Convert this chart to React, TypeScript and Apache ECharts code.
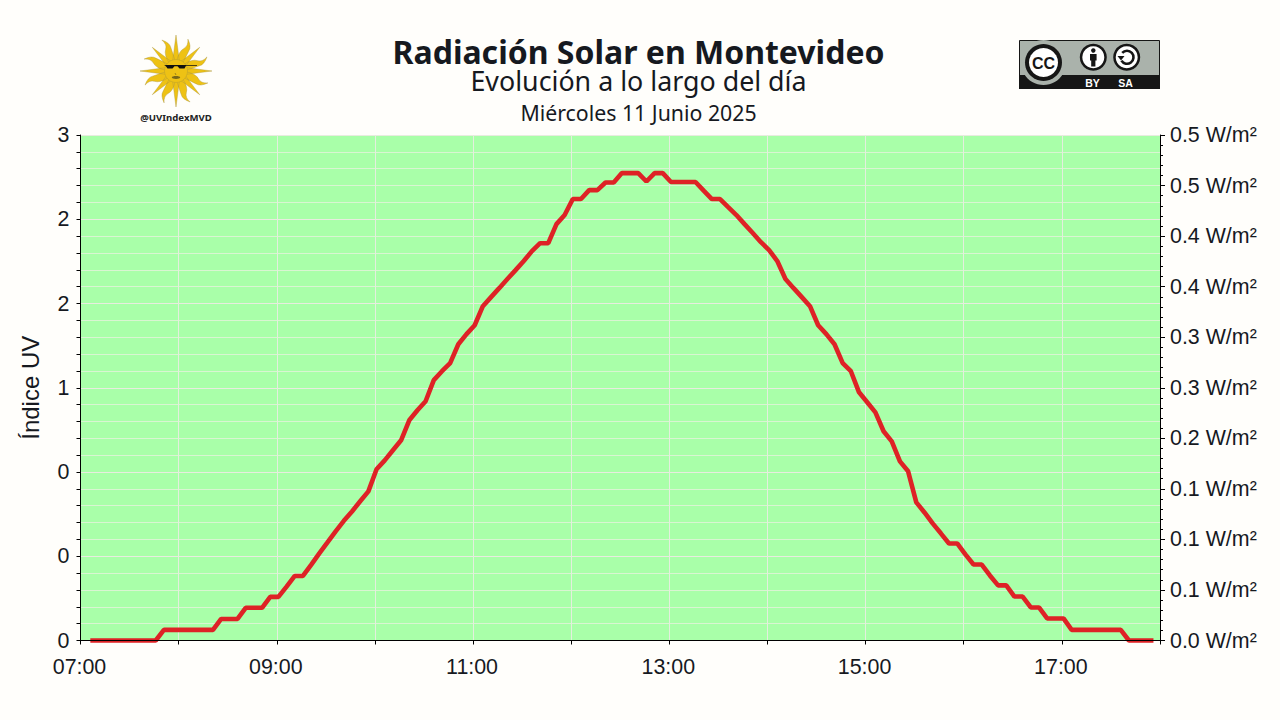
import React, { useEffect, useRef } from "react";
import * as echarts from "echarts";

const titleText = "Radiación Solar en Montevideo";
const subtitleText = "Evolución a lo largo del día";
const dateText = "Miércoles 11 Junio 2025";
const handleText = "@UVIndexMVD";
const yAxisTitle = "Índice UV";

const firstSampleMinute = 426;
const sampleStepMinutes = 5;

const uvValues = [
  0, 0, 0, 0, 0, 0, 0, 0, 0,
  0.063, 0.063, 0.063, 0.063, 0.063, 0.063, 0.063,
  0.128, 0.128, 0.128, 0.194, 0.194, 0.194, 0.259, 0.259, 0.32, 0.383, 0.383,
  0.449, 0.517, 0.582, 0.648, 0.71, 0.766, 0.826, 0.885, 1.016, 1.069, 1.129, 1.188,
  1.307, 1.366, 1.42, 1.545, 1.598, 1.646, 1.758, 1.818, 1.871, 1.984, 2.038, 2.091,
  2.145, 2.198, 2.252, 2.311, 2.358, 2.358, 2.471, 2.525, 2.62, 2.62, 2.673, 2.673,
  2.718, 2.718, 2.774, 2.774, 2.774, 2.724, 2.774, 2.774, 2.721, 2.721, 2.721, 2.721,
  2.67, 2.62, 2.62, 2.572, 2.525, 2.471, 2.418, 2.364, 2.317, 2.252, 2.145, 2.091,
  2.038, 1.984, 1.871, 1.818, 1.758, 1.646, 1.598, 1.473, 1.414, 1.354, 1.242, 1.182,
  1.063, 1.004, 0.82, 0.76, 0.695, 0.636, 0.576, 0.576, 0.511, 0.451, 0.451, 0.386,
  0.327, 0.327, 0.261, 0.261, 0.196, 0.196, 0.131, 0.131, 0.131,
  0.063, 0.063, 0.063, 0.063, 0.063, 0.063, 0.063,
  0, 0, 0, 0,
];

const xTickLabels = ["07:00", "", "09:00", "", "11:00", "", "13:00", "", "15:00", "", "17:00", ""];
const uvTickLabels = ["0", "0", "0", "1", "2", "2", "3"];
const irradianceTickLabels = [
  "0.0 W/m²", "0.1 W/m²", "0.1 W/m²", "0.1 W/m²", "0.2 W/m²", "0.3 W/m²",
  "0.3 W/m²", "0.4 W/m²", "0.4 W/m²", "0.5 W/m²", "0.5 W/m²",
];

const INK = "#16191f";
const SANS = "'Liberation Sans', Arial, sans-serif";
const NOTO = "'Noto Sans', sans-serif";

function buildSunRays(): string {
  // 16 rays around the origin: straight ones alternate with wavy ones.
  let d = "";
  const pt = (r: number, deg: number) => {
    const a = (deg * Math.PI) / 180;
    return `${(r * Math.cos(a)).toFixed(2)} ${(r * Math.sin(a)).toFixed(2)}`;
  };
  for (let i = 0; i < 16; i++) {
    const a = i * 22.5 - 90;
    if (i % 2 === 0) {
      const tip = i % 4 === 0 ? 36 : 33.5;
      d += `M${pt(10, a - 20)} L${pt(tip, a)} L${pt(10, a + 20)} Z `;
    } else {
      d +=
        `M${pt(10, a - 18)} Q${pt(20, a - 15)} ${pt(24, a - 3)} ` +
        `Q${pt(28, a + 4)} ${pt(34, a - 2)} ` +
        `Q${pt(29, a + 10)} ${pt(24, a + 10)} ` +
        `Q${pt(17, a + 13)} ${pt(10, a + 18)} Z `;
    }
  }
  return d;
}

const sunElements = () => [
  { type: "sunRays", x: 176, y: 71, style: { fill: "#eec214", stroke: "#a8963f", lineWidth: 0.4 } },
  { type: "circle", shape: { cx: 176, cy: 71, r: 11.5 }, style: { fill: "#eec214", stroke: "#b09a30", lineWidth: 0.4 } },
  { type: "polygon", shape: { points: [[164, 65], [197, 65], [197, 65.8], [186, 65.8], [184.5, 68.5], [179.5, 68.5], [177.5, 66.3], [174.5, 66.3], [172.5, 68.5], [167.5, 68.5], [165.5, 65.8]] }, style: { fill: "#111" } },
  { type: "line", shape: { x1: 175, y1: 73, x2: 176, y2: 75 }, style: { stroke: "#7a6818", lineWidth: 0.7 } },
  { type: "ellipse", shape: { cx: 176, cy: 77.5, rx: 4.2, ry: 1.4 }, style: { fill: "#7a6818" } },
  {
    type: "text", x: 176, y: 117.5,
    style: { text: handleText, font: `bold 9.6px ${NOTO}`, fill: "#222", align: "center", verticalAlign: "middle" },
  },
];

const badgeElements = () => {
  const grey = "#aab2ab";
  const black = "#161616";
  return [
    { type: "rect", shape: { x: 1019.5, y: 40.5, width: 140, height: 48 }, style: { fill: grey, stroke: black, lineWidth: 1 } },
    { type: "rect", shape: { x: 1019, y: 75, width: 141, height: 14 }, style: { fill: black } },
    { type: "circle", shape: { cx: 1043.5, cy: 62.5, r: 22.5 }, style: { fill: grey } },
    { type: "circle", shape: { cx: 1043.5, cy: 62.5, r: 18.5 }, style: { fill: black } },
    { type: "circle", shape: { cx: 1043.5, cy: 62.5, r: 14.5 }, style: { fill: "#fff" } },
    { type: "text", x: 1043.5, y: 63, style: { text: "CC", font: `bold 16px ${SANS}`, fill: black, align: "center", verticalAlign: "middle" } },
    { type: "circle", shape: { cx: 1093.3, cy: 57.3, r: 13.5 }, style: { fill: black } },
    { type: "circle", shape: { cx: 1093.3, cy: 57.3, r: 11 }, style: { fill: "#fff" } },
    { type: "circle", shape: { cx: 1093.3, cy: 50.5, r: 2.2 }, style: { fill: black } },
    { type: "rect", shape: { x: 1090, y: 54, width: 6.6, height: 6.5 }, style: { fill: black } },
    { type: "rect", shape: { x: 1091.2, y: 60, width: 4.2, height: 6.5 }, style: { fill: black } },
    { type: "circle", shape: { cx: 1126.7, cy: 57.3, r: 13.5 }, style: { fill: black } },
    { type: "circle", shape: { cx: 1126.7, cy: 57.3, r: 11 }, style: { fill: "#fff" } },
    { type: "arc", shape: { cx: 1127, cy: 57.3, r: 6.5, startAngle: -2.4, endAngle: 2.6 }, style: { stroke: black, lineWidth: 2.6, fill: "none" } },
    { type: "polygon", shape: { points: [[1117.5, 56], [1124.5, 56], [1121, 60.5]] }, style: { fill: black } },
    { type: "text", x: 1092.5, y: 82.5, style: { text: "BY", font: `bold 10.5px ${SANS}`, fill: "#fff", align: "center", verticalAlign: "middle" } },
    { type: "text", x: 1125.5, y: 82.5, style: { text: "SA", font: `bold 10.5px ${SANS}`, fill: "#fff", align: "center", verticalAlign: "middle" } },
  ];
};

export default function App() {
  const ref = useRef<HTMLDivElement>(null);
  useEffect(() => {
    if (!ref.current) return;
    echarts.graphic.registerShape("sunRays", echarts.graphic.extendPath(buildSunRays(), {}));
    const chart = echarts.init(ref.current, undefined, { renderer: "svg" });
    const seriesData = uvValues.map((v, i) => [firstSampleMinute + i * sampleStepMinutes, v]);
    const grid = { left: 80.5, top: 135, width: 1079.5, height: 505.5, show: true, backgroundColor: "#a9ffa9", borderWidth: 0 };
    const axisStroke = { color: "#000", width: 1 };
    chart.setOption({
      animation: false,
      backgroundColor: "#fffefb",
      title: [
        { text: titleText, left: 633.5, top: 31, textAlign: "center", textStyle: { fontFamily: NOTO, fontSize: 32, lineHeight: 30, fontWeight: "bold", color: INK } },
        { text: subtitleText, left: 633.5, top: 62, textAlign: "center", textStyle: { fontFamily: NOTO, fontSize: 26.8, lineHeight: 27, fontWeight: "normal", color: INK } },
        { text: dateText, left: 633.5, top: 96, textAlign: "center", textStyle: { fontFamily: NOTO, fontSize: 21.3, lineHeight: 22, fontWeight: "normal", color: INK } },
      ],
      grid,
      xAxis: [
        {
          type: "value", min: 420, max: 1080, interval: 60, position: "bottom",
          axisLine: { show: false },
          axisTick: { show: false },
          axisLabel: {
            show: true, margin: 16, fontFamily: SANS, fontSize: 21.4, color: INK, hideOverlap: false, padding: [0, 2, 0, 0],
            formatter: (v: number) => xTickLabels[Math.round((v - 420) / 60)] ?? "",
          },
          splitLine: { show: true, lineStyle: { color: "#e4eede", width: 1 } },
        },
        {
          type: "value", min: 420, max: 1080, interval: 60, position: "bottom", z: 5,
          axisLine: { show: true, onZero: false, lineStyle: axisStroke },
          axisTick: { show: true, length: 4, lineStyle: axisStroke },
          axisLabel: { show: false },
          splitLine: { show: false },
        },
      ],
      yAxis: [
        {
          type: "value", min: 0, max: 3, interval: 0.5, position: "left",
          name: yAxisTitle, nameLocation: "middle", nameGap: 38, nameRotate: 90,
          nameTextStyle: { fontFamily: SANS, fontSize: 24, color: INK },
          axisLine: { show: true, lineStyle: axisStroke },
          axisTick: { show: true, length: 4, lineStyle: axisStroke },
          minorTick: { show: true, splitNumber: 5, length: 4, lineStyle: axisStroke },
          axisLabel: {
            margin: 11, fontFamily: SANS, fontSize: 21.4, color: INK, padding: [0, 0, 4, 0],
            formatter: (v: number) => uvTickLabels[Math.round(v / 0.5)] ?? "",
          },
          splitLine: { show: true, lineStyle: { color: "#e8ecdf", width: 1.2 } },
          minorSplitLine: { show: true, lineStyle: { color: "#d9f5d2", width: 1 } },
        },
        {
          type: "value", min: 0, max: 0.5, interval: 0.05, position: "right",
          axisLine: { show: true, lineStyle: axisStroke },
          axisTick: { show: true, length: 5, lineStyle: axisStroke },
          minorTick: { show: true, splitNumber: 5, length: 3, lineStyle: axisStroke },
          axisLabel: {
            margin: 10, fontFamily: SANS, fontSize: 21.4, color: INK, padding: [0, 0, 4, 0],
            formatter: (v: number) => irradianceTickLabels[Math.round(v / 0.05)] ?? "",
          },
          splitLine: { show: false },
        },
      ],
      series: [
        {
          type: "line", xAxisIndex: 0, yAxisIndex: 0, data: seriesData, showSymbol: false, symbol: "none",
          clip: false, smooth: false, z: 3,
          lineStyle: { color: "#de2226", width: 4.6, cap: "butt", join: "bevel" },
        },
      ],
      graphic: { elements: [...sunElements(), ...badgeElements()] },
    });
    return () => chart.dispose();
  }, []);
  return <div ref={ref} style={{ position: "absolute", left: 0, top: 0, width: 1280, height: 720 }} />;
}
